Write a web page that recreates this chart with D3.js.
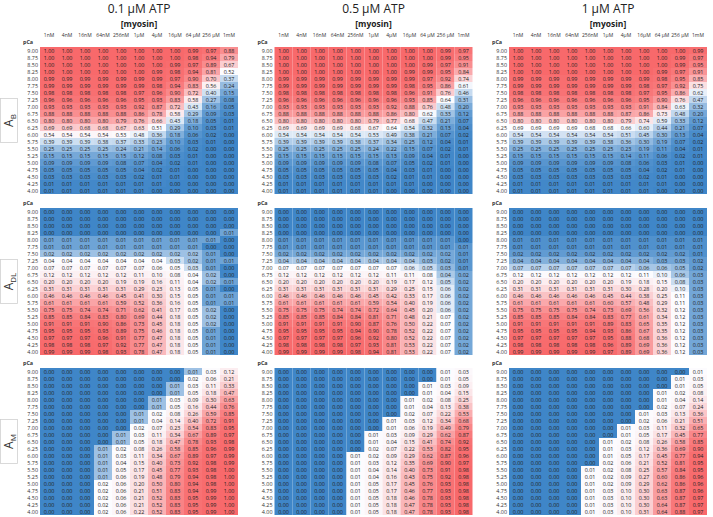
<!DOCTYPE html>
<html>
<head>
<meta charset="utf-8">
<script src="https://cdn.jsdelivr.net/npm/d3@7"></script>
<style>
body { margin: 0; background: #fff; }
svg text { font-family: "Open Sans", "Liberation Sans", sans-serif; }
</style>
</head>
<body>
<svg id="chart" width="713" height="517"></svg>
<script>
var atpTitles = ['0.1 µM ATP', '0.5 µM ATP', '1 µM ATP'];
var myosinLabels = ['1nM', '4nM', '16nM', '64nM', '256nM', '1µM', '4µM', '16µM', '64 µM', '256 µM', '1mM'];
var pCa = ['9.00', '8.75', '8.50', '8.25', '8.00', '7.75', '7.50', '7.25', '7.00', '6.75', '6.50',
           '6.25', '6.00', '5.75', '5.50', '5.25', '5.00', '4.75', '4.50', '4.25', '4.00'];
var stateSubs = ['B', 'DL', 'M'];

// A_B
var ab01 = [
  [1.00,1.00,1.00,1.00,1.00,1.00,1.00,1.00,0.99,0.97,0.88],
  [1.00,1.00,1.00,1.00,1.00,1.00,1.00,1.00,0.98,0.94,0.79],
  [1.00,1.00,1.00,1.00,1.00,1.00,1.00,0.99,0.97,0.89,0.67],
  [1.00,1.00,1.00,1.00,1.00,1.00,0.99,0.98,0.94,0.81,0.52],
  [0.99,0.99,0.99,0.99,0.99,0.99,0.99,0.97,0.90,0.70,0.37],
  [0.99,0.99,0.99,0.99,0.99,0.99,0.98,0.94,0.83,0.56,0.24],
  [0.98,0.98,0.98,0.98,0.98,0.97,0.96,0.90,0.72,0.40,0.15],
  [0.96,0.96,0.96,0.96,0.96,0.95,0.93,0.83,0.58,0.27,0.08],
  [0.93,0.93,0.93,0.93,0.93,0.92,0.87,0.72,0.43,0.16,0.05],
  [0.88,0.88,0.88,0.88,0.88,0.86,0.78,0.58,0.29,0.09,0.03],
  [0.80,0.80,0.80,0.80,0.79,0.76,0.66,0.43,0.18,0.05,0.01],
  [0.69,0.69,0.68,0.68,0.67,0.63,0.51,0.29,0.10,0.03,0.01],
  [0.54,0.54,0.54,0.54,0.53,0.48,0.36,0.18,0.06,0.02,0.00],
  [0.39,0.39,0.39,0.38,0.37,0.33,0.23,0.10,0.03,0.01,0.00],
  [0.25,0.25,0.25,0.25,0.24,0.21,0.14,0.06,0.02,0.00,0.00],
  [0.15,0.15,0.15,0.15,0.15,0.12,0.08,0.03,0.01,0.00,0.00],
  [0.09,0.09,0.09,0.09,0.08,0.07,0.04,0.02,0.01,0.00,0.00],
  [0.05,0.05,0.05,0.05,0.05,0.04,0.02,0.01,0.00,0.00,0.00],
  [0.03,0.03,0.03,0.03,0.03,0.02,0.01,0.01,0.00,0.00,0.00],
  [0.01,0.01,0.01,0.01,0.01,0.01,0.01,0.00,0.00,0.00,0.00],
  [0.01,0.01,0.01,0.01,0.01,0.01,0.00,0.00,0.00,0.00,0.00]
];
var ab05 = [
  [1.00,1.00,1.00,1.00,1.00,1.00,1.00,1.00,1.00,0.99,0.97],
  [1.00,1.00,1.00,1.00,1.00,1.00,1.00,1.00,1.00,0.99,0.95],
  [1.00,1.00,1.00,1.00,1.00,1.00,1.00,1.00,0.99,0.97,0.91],
  [1.00,1.00,1.00,1.00,1.00,1.00,1.00,0.99,0.99,0.95,0.84],
  [0.99,0.99,0.99,0.99,0.99,0.99,0.99,0.99,0.97,0.92,0.74],
  [0.99,0.99,0.99,0.99,0.99,0.99,0.99,0.98,0.95,0.86,0.61],
  [0.98,0.98,0.98,0.98,0.98,0.98,0.98,0.96,0.91,0.76,0.46],
  [0.96,0.96,0.96,0.96,0.96,0.96,0.96,0.93,0.85,0.64,0.31],
  [0.93,0.93,0.93,0.93,0.93,0.93,0.92,0.88,0.76,0.48,0.20],
  [0.88,0.88,0.88,0.88,0.88,0.88,0.86,0.80,0.62,0.33,0.12],
  [0.80,0.80,0.80,0.80,0.80,0.79,0.77,0.68,0.47,0.21,0.07],
  [0.69,0.69,0.69,0.69,0.68,0.67,0.64,0.54,0.32,0.13,0.04],
  [0.54,0.54,0.54,0.54,0.54,0.53,0.49,0.38,0.21,0.07,0.02],
  [0.39,0.39,0.39,0.39,0.38,0.37,0.34,0.25,0.12,0.04,0.01],
  [0.25,0.25,0.25,0.25,0.25,0.24,0.22,0.15,0.07,0.02,0.01],
  [0.15,0.15,0.15,0.15,0.15,0.15,0.13,0.09,0.04,0.01,0.00],
  [0.09,0.09,0.09,0.09,0.09,0.08,0.07,0.05,0.02,0.01,0.00],
  [0.05,0.05,0.05,0.05,0.05,0.05,0.04,0.03,0.01,0.00,0.00],
  [0.03,0.03,0.03,0.03,0.03,0.03,0.02,0.01,0.01,0.00,0.00],
  [0.01,0.01,0.01,0.01,0.01,0.01,0.01,0.01,0.00,0.00,0.00],
  [0.01,0.01,0.01,0.01,0.01,0.01,0.00,0.00,0.00,0.00,0.00]
];
var ab1 = [
  [1.00,1.00,1.00,1.00,1.00,1.00,1.00,1.00,1.00,1.00,0.99],
  [1.00,1.00,1.00,1.00,1.00,1.00,1.00,1.00,1.00,0.99,0.97],
  [1.00,1.00,1.00,1.00,1.00,1.00,1.00,1.00,1.00,0.99,0.95],
  [1.00,1.00,1.00,1.00,1.00,1.00,1.00,1.00,0.99,0.97,0.91],
  [0.99,0.99,0.99,0.99,0.99,0.99,0.99,0.99,0.98,0.95,0.85],
  [0.99,0.99,0.99,0.99,0.99,0.99,0.99,0.98,0.97,0.92,0.75],
  [0.98,0.98,0.98,0.98,0.98,0.98,0.98,0.97,0.95,0.86,0.62],
  [0.96,0.96,0.96,0.96,0.96,0.96,0.96,0.95,0.90,0.76,0.47],
  [0.93,0.93,0.93,0.93,0.93,0.93,0.93,0.91,0.84,0.63,0.32],
  [0.88,0.88,0.88,0.88,0.88,0.88,0.87,0.86,0.73,0.48,0.20],
  [0.80,0.80,0.80,0.80,0.80,0.80,0.79,0.74,0.59,0.33,0.12],
  [0.69,0.69,0.69,0.69,0.68,0.68,0.66,0.60,0.44,0.21,0.07],
  [0.54,0.54,0.54,0.54,0.54,0.54,0.51,0.45,0.30,0.13,0.04],
  [0.39,0.39,0.39,0.39,0.39,0.38,0.36,0.30,0.19,0.07,0.02],
  [0.25,0.25,0.25,0.25,0.25,0.25,0.23,0.19,0.11,0.04,0.01],
  [0.15,0.15,0.15,0.15,0.15,0.15,0.14,0.11,0.06,0.02,0.01],
  [0.09,0.09,0.09,0.09,0.09,0.09,0.08,0.06,0.03,0.01,0.00],
  [0.05,0.05,0.05,0.05,0.05,0.05,0.05,0.04,0.02,0.01,0.00],
  [0.03,0.03,0.03,0.03,0.03,0.03,0.03,0.02,0.01,0.00,0.00],
  [0.01,0.01,0.01,0.01,0.01,0.01,0.01,0.01,0.01,0.00,0.00],
  [0.01,0.01,0.01,0.01,0.01,0.01,0.01,0.01,0.00,0.00,0.00]
];

// A_DL
var adl01 = [
  [0.00,0.00,0.00,0.00,0.00,0.00,0.00,0.00,0.00,0.00,0.00],
  [0.00,0.00,0.00,0.00,0.00,0.00,0.00,0.00,0.00,0.00,0.00],
  [0.00,0.00,0.00,0.00,0.00,0.00,0.00,0.00,0.00,0.00,0.00],
  [0.00,0.00,0.00,0.00,0.00,0.00,0.00,0.00,0.00,0.00,0.01],
  [0.01,0.01,0.01,0.01,0.01,0.01,0.01,0.01,0.01,0.01,0.00],
  [0.01,0.01,0.01,0.01,0.01,0.01,0.01,0.01,0.01,0.00,0.00],
  [0.02,0.02,0.02,0.02,0.02,0.02,0.02,0.02,0.02,0.01,0.00],
  [0.04,0.04,0.04,0.04,0.04,0.04,0.04,0.03,0.02,0.01,0.01],
  [0.07,0.07,0.07,0.07,0.07,0.07,0.06,0.05,0.03,0.01,0.00],
  [0.12,0.12,0.12,0.12,0.12,0.11,0.10,0.08,0.04,0.02,0.00],
  [0.20,0.20,0.20,0.20,0.19,0.19,0.16,0.11,0.04,0.02,0.01],
  [0.31,0.31,0.31,0.31,0.31,0.29,0.23,0.13,0.05,0.01,0.00],
  [0.46,0.46,0.46,0.46,0.45,0.41,0.30,0.15,0.05,0.01,0.01],
  [0.61,0.61,0.61,0.61,0.59,0.52,0.36,0.16,0.05,0.01,0.01],
  [0.75,0.75,0.74,0.74,0.71,0.62,0.41,0.17,0.05,0.02,0.00],
  [0.85,0.85,0.84,0.83,0.80,0.69,0.44,0.18,0.05,0.02,0.00],
  [0.91,0.91,0.91,0.90,0.86,0.73,0.45,0.18,0.05,0.02,0.00],
  [0.95,0.95,0.95,0.93,0.89,0.75,0.46,0.18,0.05,0.01,0.00],
  [0.97,0.97,0.97,0.96,0.91,0.77,0.47,0.18,0.05,0.01,0.00],
  [0.98,0.98,0.98,0.97,0.92,0.77,0.47,0.18,0.05,0.01,0.00],
  [0.99,0.99,0.99,0.98,0.93,0.78,0.47,0.18,0.05,0.01,0.00]
];
var adl05 = [
  [0.00,0.00,0.00,0.00,0.00,0.00,0.00,0.00,0.00,0.00,0.00],
  [0.00,0.00,0.00,0.00,0.00,0.00,0.00,0.00,0.00,0.00,0.00],
  [0.00,0.00,0.00,0.00,0.00,0.00,0.00,0.00,0.00,0.00,0.00],
  [0.00,0.00,0.00,0.00,0.00,0.00,0.00,0.00,0.00,0.00,0.00],
  [0.01,0.01,0.01,0.01,0.01,0.01,0.01,0.01,0.01,0.01,0.00],
  [0.01,0.01,0.01,0.01,0.01,0.01,0.01,0.01,0.01,0.01,0.01],
  [0.02,0.02,0.02,0.02,0.02,0.02,0.02,0.02,0.02,0.02,0.01],
  [0.04,0.04,0.04,0.04,0.04,0.04,0.04,0.04,0.03,0.02,0.01],
  [0.07,0.07,0.07,0.07,0.07,0.07,0.07,0.06,0.05,0.03,0.01],
  [0.12,0.12,0.12,0.12,0.12,0.12,0.11,0.11,0.08,0.04,0.02],
  [0.20,0.20,0.20,0.20,0.20,0.20,0.19,0.17,0.12,0.05,0.02],
  [0.31,0.31,0.31,0.31,0.31,0.31,0.29,0.25,0.15,0.06,0.02],
  [0.46,0.46,0.46,0.46,0.46,0.45,0.42,0.33,0.17,0.06,0.02],
  [0.61,0.61,0.61,0.61,0.61,0.59,0.54,0.40,0.19,0.06,0.02],
  [0.75,0.75,0.75,0.74,0.74,0.72,0.64,0.45,0.20,0.06,0.02],
  [0.85,0.85,0.85,0.84,0.84,0.81,0.71,0.48,0.21,0.07,0.02],
  [0.91,0.91,0.91,0.91,0.90,0.87,0.76,0.50,0.22,0.07,0.02],
  [0.95,0.95,0.95,0.95,0.94,0.90,0.78,0.52,0.22,0.07,0.02],
  [0.97,0.97,0.97,0.97,0.96,0.92,0.80,0.52,0.22,0.07,0.02],
  [0.98,0.98,0.98,0.98,0.97,0.93,0.81,0.53,0.22,0.07,0.02],
  [0.99,0.99,0.99,0.99,0.98,0.94,0.81,0.53,0.22,0.07,0.02]
];
var adl1 = [
  [0.00,0.00,0.00,0.00,0.00,0.00,0.00,0.00,0.00,0.00,0.00],
  [0.00,0.00,0.00,0.00,0.00,0.00,0.00,0.00,0.00,0.00,0.00],
  [0.00,0.00,0.00,0.00,0.00,0.00,0.00,0.00,0.00,0.00,0.00],
  [0.00,0.00,0.00,0.00,0.00,0.00,0.00,0.00,0.00,0.00,0.00],
  [0.01,0.01,0.01,0.01,0.01,0.01,0.01,0.01,0.01,0.01,0.01],
  [0.01,0.01,0.01,0.01,0.01,0.01,0.01,0.01,0.01,0.01,0.01],
  [0.02,0.02,0.02,0.02,0.02,0.02,0.02,0.02,0.02,0.02,0.01],
  [0.04,0.04,0.04,0.04,0.04,0.04,0.04,0.04,0.03,0.03,0.02],
  [0.07,0.07,0.07,0.07,0.07,0.07,0.07,0.06,0.06,0.05,0.02],
  [0.12,0.12,0.12,0.12,0.12,0.12,0.12,0.11,0.10,0.06,0.03],
  [0.20,0.20,0.20,0.20,0.20,0.20,0.19,0.18,0.15,0.08,0.03],
  [0.31,0.31,0.31,0.31,0.31,0.31,0.30,0.28,0.20,0.10,0.03],
  [0.46,0.46,0.46,0.46,0.46,0.45,0.44,0.38,0.25,0.11,0.03],
  [0.61,0.61,0.61,0.61,0.61,0.60,0.57,0.48,0.29,0.11,0.03],
  [0.75,0.75,0.75,0.75,0.74,0.73,0.69,0.56,0.32,0.12,0.03],
  [0.85,0.85,0.85,0.84,0.84,0.83,0.77,0.61,0.34,0.12,0.03],
  [0.91,0.91,0.91,0.91,0.91,0.89,0.83,0.65,0.35,0.12,0.03],
  [0.95,0.95,0.95,0.95,0.94,0.93,0.86,0.67,0.35,0.12,0.03],
  [0.97,0.97,0.97,0.97,0.97,0.95,0.88,0.68,0.36,0.12,0.03],
  [0.98,0.98,0.98,0.98,0.98,0.96,0.89,0.69,0.36,0.12,0.03],
  [0.99,0.99,0.99,0.99,0.99,0.97,0.89,0.69,0.36,0.12,0.03]
];

// A_M
var am01 = [
  [0.00,0.00,0.00,0.00,0.00,0.00,0.00,0.00,0.01,0.03,0.12],
  [0.00,0.00,0.00,0.00,0.00,0.00,0.00,0.00,0.02,0.06,0.21],
  [0.00,0.00,0.00,0.00,0.00,0.00,0.00,0.01,0.03,0.11,0.33],
  [0.00,0.00,0.00,0.00,0.00,0.00,0.00,0.01,0.05,0.18,0.47],
  [0.00,0.00,0.00,0.00,0.00,0.00,0.01,0.03,0.09,0.30,0.63],
  [0.00,0.00,0.00,0.00,0.00,0.00,0.01,0.05,0.16,0.44,0.76],
  [0.00,0.00,0.00,0.00,0.00,0.01,0.02,0.08,0.26,0.59,0.85],
  [0.00,0.00,0.00,0.00,0.00,0.01,0.04,0.14,0.40,0.72,0.91],
  [0.00,0.00,0.00,0.00,0.00,0.02,0.07,0.23,0.54,0.83,0.95],
  [0.00,0.00,0.00,0.00,0.01,0.03,0.11,0.34,0.67,0.89,0.97],
  [0.00,0.00,0.00,0.00,0.01,0.05,0.18,0.47,0.78,0.93,0.98],
  [0.00,0.00,0.00,0.01,0.02,0.08,0.26,0.58,0.85,0.96,0.99],
  [0.00,0.00,0.00,0.01,0.03,0.11,0.34,0.67,0.89,0.97,0.99],
  [0.00,0.00,0.00,0.01,0.04,0.15,0.40,0.73,0.92,0.98,0.99],
  [0.00,0.00,0.00,0.01,0.05,0.17,0.45,0.77,0.93,0.98,1.00],
  [0.00,0.00,0.00,0.01,0.06,0.19,0.48,0.79,0.94,0.98,1.00],
  [0.00,0.00,0.00,0.02,0.06,0.20,0.50,0.80,0.94,0.98,1.00],
  [0.00,0.00,0.00,0.02,0.06,0.21,0.51,0.83,0.94,0.99,1.00],
  [0.00,0.00,0.00,0.02,0.06,0.21,0.52,0.83,0.95,0.99,1.00],
  [0.00,0.00,0.00,0.02,0.06,0.21,0.52,0.83,0.95,0.99,1.00],
  [0.00,0.00,0.00,0.02,0.06,0.22,0.52,0.83,0.95,0.99,1.00]
];
var am05 = [
  [0.00,0.00,0.00,0.00,0.00,0.00,0.00,0.00,0.00,0.01,0.03],
  [0.00,0.00,0.00,0.00,0.00,0.00,0.00,0.00,0.00,0.01,0.05],
  [0.00,0.00,0.00,0.00,0.00,0.00,0.00,0.00,0.01,0.03,0.09],
  [0.00,0.00,0.00,0.00,0.00,0.00,0.00,0.00,0.01,0.04,0.15],
  [0.00,0.00,0.00,0.00,0.00,0.00,0.00,0.01,0.02,0.08,0.25],
  [0.00,0.00,0.00,0.00,0.00,0.00,0.00,0.01,0.04,0.13,0.38],
  [0.00,0.00,0.00,0.00,0.00,0.00,0.00,0.02,0.07,0.22,0.53],
  [0.00,0.00,0.00,0.00,0.00,0.00,0.01,0.03,0.12,0.34,0.68],
  [0.00,0.00,0.00,0.00,0.00,0.00,0.01,0.06,0.19,0.49,0.79],
  [0.00,0.00,0.00,0.00,0.00,0.01,0.03,0.09,0.29,0.62,0.87],
  [0.00,0.00,0.00,0.00,0.00,0.01,0.04,0.15,0.41,0.74,0.92],
  [0.00,0.00,0.00,0.00,0.00,0.02,0.07,0.22,0.53,0.82,0.95],
  [0.00,0.00,0.00,0.00,0.01,0.02,0.09,0.29,0.62,0.87,0.96],
  [0.00,0.00,0.00,0.00,0.01,0.03,0.12,0.35,0.69,0.90,0.97],
  [0.00,0.00,0.00,0.00,0.01,0.04,0.14,0.40,0.73,0.91,0.98],
  [0.00,0.00,0.00,0.00,0.01,0.04,0.16,0.43,0.75,0.92,0.98],
  [0.00,0.00,0.00,0.00,0.01,0.05,0.17,0.45,0.76,0.93,0.98],
  [0.00,0.00,0.00,0.00,0.01,0.05,0.17,0.46,0.77,0.93,0.98],
  [0.00,0.00,0.00,0.00,0.01,0.05,0.18,0.46,0.78,0.93,0.98],
  [0.00,0.00,0.00,0.00,0.01,0.05,0.18,0.47,0.78,0.93,0.98],
  [0.00,0.00,0.00,0.00,0.01,0.05,0.18,0.47,0.78,0.93,0.98]
];
var am1 = [
  [0.00,0.00,0.00,0.00,0.00,0.00,0.00,0.00,0.00,0.00,0.01],
  [0.00,0.00,0.00,0.00,0.00,0.00,0.00,0.00,0.00,0.01,0.03],
  [0.00,0.00,0.00,0.00,0.00,0.00,0.00,0.00,0.00,0.01,0.05],
  [0.00,0.00,0.00,0.00,0.00,0.00,0.00,0.00,0.01,0.02,0.08],
  [0.00,0.00,0.00,0.00,0.00,0.00,0.00,0.00,0.01,0.04,0.14],
  [0.00,0.00,0.00,0.00,0.00,0.00,0.00,0.00,0.02,0.07,0.24],
  [0.00,0.00,0.00,0.00,0.00,0.00,0.00,0.01,0.03,0.13,0.36],
  [0.00,0.00,0.00,0.00,0.00,0.00,0.00,0.02,0.06,0.21,0.51],
  [0.00,0.00,0.00,0.00,0.00,0.00,0.01,0.03,0.11,0.32,0.65],
  [0.00,0.00,0.00,0.00,0.00,0.00,0.01,0.05,0.17,0.45,0.77],
  [0.00,0.00,0.00,0.00,0.00,0.01,0.02,0.08,0.26,0.58,0.85],
  [0.00,0.00,0.00,0.00,0.00,0.01,0.03,0.12,0.36,0.69,0.90],
  [0.00,0.00,0.00,0.00,0.00,0.01,0.05,0.17,0.45,0.77,0.94],
  [0.00,0.00,0.00,0.00,0.00,0.02,0.06,0.21,0.52,0.81,0.95],
  [0.00,0.00,0.00,0.00,0.01,0.02,0.08,0.25,0.57,0.84,0.95],
  [0.00,0.00,0.00,0.00,0.01,0.02,0.09,0.27,0.60,0.86,0.96],
  [0.00,0.00,0.00,0.00,0.01,0.02,0.09,0.29,0.62,0.86,0.96],
  [0.00,0.00,0.00,0.00,0.01,0.03,0.10,0.30,0.63,0.87,0.96],
  [0.00,0.00,0.00,0.00,0.01,0.03,0.10,0.30,0.63,0.87,0.97],
  [0.00,0.00,0.00,0.00,0.01,0.03,0.10,0.30,0.64,0.87,0.97],
  [0.00,0.00,0.00,0.00,0.01,0.03,0.10,0.31,0.64,0.88,0.97]
];

var grid = [[ab01, ab05, ab1], [adl01, adl05, adl1], [am01, am05, am1]];

var cellW = 18;
var cellH = 7;
var panelLeft = [40, 274.5, 509];
var panelTop = [47, 208, 368];
var blue = '#3f86c8', white = '#fcfcff', red = '#f8696b';
var fmt = d3.format('.2f');

var svg = d3.select('#chart');

// column titles
atpTitles.forEach(function(t, c) {
    var cx = panelLeft[c] + cellW * myosinLabels.length / 2;
    svg.append('text')
        .attr('x', cx)
        .attr('y', 13)
        .attr('text-anchor', 'middle')
        .attr('font-size', 12)
        .attr('fill', '#222')
        .text(t);
    svg.append('text')
        .attr('x', cx)
        .attr('y', 27)
        .attr('text-anchor', 'middle')
        .attr('font-size', 8.5)
        .attr('font-weight', 'bold')
        .attr('fill', '#222')
        .text('[myosin]');
});

function drawPanel(data, r, c) {
    var x0 = panelLeft[c], y0 = panelTop[r];
    var x = d3.scaleBand().domain(myosinLabels).range([x0, x0 + cellW * myosinLabels.length]);
    var y = d3.scaleBand().domain(pCa).range([y0, y0 + cellH * pCa.length]);

    var vals = d3.merge(data);
    var lo = d3.min(vals), hi = d3.max(vals);
    var mid = Math.max(d3.median(vals), lo + 0.005);
    var color = d3.scaleLinear().domain([lo, mid, hi]).range([blue, white, red]);

    var cells = [];
    data.forEach(function(row, i) {
        row.forEach(function(v, j) {
            cells.push({ p: pCa[i], m: myosinLabels[j], v: v });
        });
    });

    var g = svg.append('g');

    g.selectAll('rect')
        .data(cells)
        .enter()
        .append('rect')
        .attr('x', function(d) { return x(d.m); })
        .attr('y', function(d) { return y(d.p); })
        .attr('width', x.bandwidth())
        .attr('height', y.bandwidth())
        .attr('fill', function(d) { return color(d.v); });

    g.selectAll('text.val')
        .data(cells)
        .enter()
        .append('text')
        .attr('class', 'val')
        .attr('x', function(d) { return x(d.m) + x.bandwidth() / 2; })
        .attr('y', function(d) { return y(d.p) + y.bandwidth() / 2; })
        .attr('text-anchor', 'middle')
        .attr('dominant-baseline', 'central')
        .attr('font-size', 5.4)
        .attr('fill', '#222')
        .text(function(d) { return fmt(d.v); });

    // pCa labels
    g.selectAll('text.pca')
        .data(pCa)
        .enter()
        .append('text')
        .attr('class', 'pca')
        .attr('x', x0 - 2)
        .attr('y', function(d) { return y(d) + y.bandwidth() / 2; })
        .attr('text-anchor', 'end')
        .attr('dominant-baseline', 'central')
        .attr('font-size', 5.4)
        .attr('fill', '#333')
        .text(function(d) { return d; });

    g.append('text')
        .attr('x', x0 - 17)
        .attr('y', y0 - 3)
        .attr('font-size', 5.4)
        .attr('font-weight', 'bold')
        .attr('fill', '#333')
        .text('pCa');

    if (r === 0) {
        g.selectAll('text.mh')
            .data(myosinLabels)
            .enter()
            .append('text')
            .attr('class', 'mh')
            .attr('x', function(d) { return x(d) + x.bandwidth() / 2; })
            .attr('y', y0 - 10)
            .attr('text-anchor', 'middle')
            .attr('font-size', 5)
            .attr('fill', '#333')
            .text(function(d) { return d; });
    }
}

grid.forEach(function(rowPanels, r) {
    rowPanels.forEach(function(data, c) {
        drawPanel(data, r, c);
    });
    // state label on the left
    var cy = panelTop[r] + cellH * pCa.length / 2;
    svg.append('rect')
        .attr('x', 0.5)
        .attr('y', cy - 22)
        .attr('width', 17)
        .attr('height', 44)
        .attr('fill', 'none')
        .attr('stroke', '#d0d0d0')
        .attr('stroke-width', 0.8);
    var lab = svg.append('text')
        .attr('transform', 'translate(13,' + cy + ') rotate(-90)')
        .attr('text-anchor', 'middle')
        .attr('font-size', 12)
        .attr('fill', '#333');
    lab.append('tspan').text('A');
    lab.append('tspan')
        .attr('font-size', 8)
        .attr('dy', 3)
        .text(stateSubs[r]);
});
</script>
</body>
</html>
